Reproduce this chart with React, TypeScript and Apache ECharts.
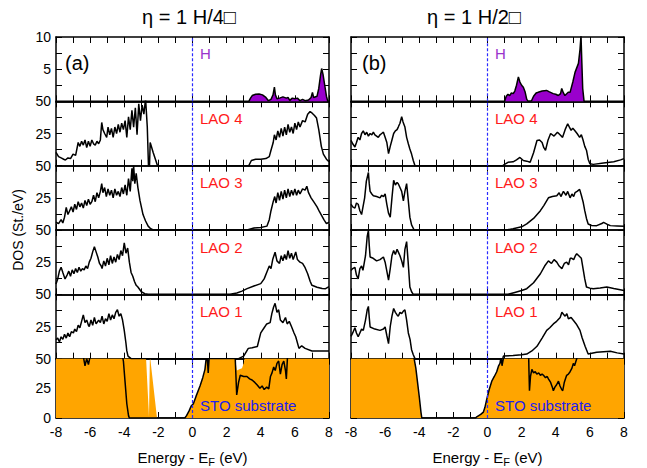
import React, { useEffect, useRef } from 'react';
import * as echarts from 'echarts';

// ---------- tick / label data ----------
const rowNames = ['H', 'LAO 4', 'LAO 3', 'LAO 2', 'LAO 1', 'STO substrate'];
const rowColors = ['#9933cc', '#ff1a1a', '#ff1a1a', '#ff1a1a', '#ff1a1a', '#2020ee'];
const colTitles = ['η = 1 H/4□', 'η = 1 H/2□'];
const colTags = ['(a)', '(b)'];
const xMin = -8;
const xMax = 8;

// ---------- series data: [energy (eV), DOS] ----------
const hA: number[][] = [[-8,0],[3.3,0],[3.4,0.5],[3.5,0.9],[3.7,1.1],[3.9,1.15],[4.1,1.0],[4.3,0.6],[4.45,0.1],[4.6,0.3],[4.72,1.0],[4.8,2.2],[4.86,1.0],[4.95,0.4],[5.1,0.5],[5.3,0.7],[5.5,0.5],[5.6,0.6],[5.7,0.15],[5.85,0.5],[6.0,0.4],[6.15,0.5],[6.3,0.1],[6.45,0.3],[6.6,0.1],[6.8,0.2],[6.95,0.6],[7.03,1.4],[7.1,0.6],[7.3,0.8],[7.4,2.0],[7.5,4.0],[7.57,5.1],[7.65,4.2],[7.75,2.5],[7.85,0.8],[7.93,0],[8,0]];
const hB: number[][] = [[-8,0],[1.0,0],[1.1,0.8],[1.2,1.1],[1.3,0.9],[1.4,1.3],[1.51,1.2],[1.6,1.6],[1.7,2.5],[1.81,3.8],[1.9,3.0],[2.0,2.5],[2.1,2.2],[2.2,1.5],[2.3,0.3],[2.39,0],[2.58,0.1],[2.7,0.8],[2.85,1.3],[2.97,1.4],[3.2,1.6],[3.46,1.7],[3.6,1.5],[3.85,1.2],[4.0,1.1],[4.15,0.9],[4.28,1.2],[4.35,2.0],[4.45,1.3],[4.54,0.9],[4.73,1.4],[4.84,1.4],[5.0,3.0],[5.13,4.5],[5.33,5.9],[5.42,8.0],[5.48,10.2],[5.53,6.0],[5.58,2.0],[5.66,0],[8,0]];

const lao4A: number[][] = [[-8,10.3],[-7.85,7],[-7.7,6],[-7.55,5],[-7.45,4.4],[-7.3,6],[-7.15,5.5],[-7.0,9],[-6.85,8],[-6.7,18],[-6.6,15],[-6.5,19],[-6.4,16],[-6.3,20],[-6.2,14],[-6.1,19],[-6.0,15],[-5.9,20],[-5.8,17],[-5.7,16],[-5.6,19],[-5.5,17],[-5.4,20],[-5.32,33.6],[-5.25,28],[-5.15,25],[-5.03,22],[-4.95,30],[-4.85,24],[-4.75,29],[-4.65,22],[-4.55,30],[-4.45,25],[-4.35,32],[-4.25,26],[-4.15,33],[-4.05,28],[-3.95,35],[-3.85,22],[-3.75,38],[-3.65,28],[-3.55,43],[-3.45,30],[-3.35,45],[-3.25,24],[-3.15,48],[-3.05,35],[-2.95,47],[-2.85,40],[-2.75,52],[-2.65,30],[-2.58,0],[-2.52,0],[-2.48,18],[-2.3,10],[-2.15,4],[-2.05,0],[3.3,0],[3.45,4],[3.7,5],[4.0,5],[4.3,5.5],[4.5,7],[4.6,12],[4.73,18],[4.8,24],[4.9,20],[5.0,27],[5.1,22],[5.2,29],[5.3,23],[5.4,30],[5.5,24],[5.6,32],[5.7,26],[5.8,30],[5.9,25],[6.0,33],[6.1,28],[6.2,34],[6.3,30],[6.45,35],[6.6,34],[6.75,40],[6.89,42],[7.0,41],[7.15,39],[7.27,37],[7.4,28],[7.55,15],[7.67,9],[7.85,5],[8,3]];
const lao3A: number[][] = [[-8,6],[-7.85,5],[-7.7,8],[-7.6,5.5],[-7.5,10],[-7.4,17.5],[-7.3,12],[-7.2,15],[-7.1,18],[-7.0,14],[-6.9,20],[-6.8,16],[-6.7,22],[-6.6,18],[-6.5,21],[-6.4,17],[-6.3,23],[-6.2,19],[-6.1,24],[-6.0,20],[-5.9,22],[-5.8,27],[-5.7,22],[-5.6,29],[-5.5,25],[-5.4,30],[-5.32,36],[-5.25,29],[-5.15,33],[-5.05,26],[-4.95,32],[-4.85,27],[-4.75,31],[-4.65,25],[-4.55,32],[-4.45,27],[-4.35,30],[-4.25,26],[-4.15,33],[-4.05,28],[-3.95,35],[-3.85,27],[-3.75,40],[-3.65,30],[-3.55,48],[-3.5,38],[-3.45,50],[-3.38,36],[-3.3,44],[-3.2,33],[-3.08,23],[-2.9,12],[-2.75,7],[-2.6,3],[-2.45,1],[-2.3,0],[3.2,0],[3.6,1.5],[4.0,2],[4.36,3],[4.5,8],[4.6,15],[4.73,22],[4.82,26],[4.9,21],[5.0,29],[5.1,23],[5.2,30],[5.3,24],[5.4,31],[5.5,25],[5.6,32],[5.7,26],[5.8,31],[5.9,27],[6.0,32],[6.1,27],[6.2,31],[6.3,28],[6.45,32],[6.6,31],[6.7,34],[6.8,29],[6.95,25],[7.1,22],[7.3,18],[7.45,14],[7.58,11],[7.7,8],[7.85,5],[8,6]];
const lao2A: number[][] = [[-8,8],[-7.9,12],[-7.8,18],[-7.7,21],[-7.6,17],[-7.47,12],[-7.35,15],[-7.25,18],[-7.15,14],[-7.05,19],[-6.95,16],[-6.85,20],[-6.75,17],[-6.65,21],[-6.55,18],[-6.45,20],[-6.35,19],[-6.25,22],[-6.15,20],[-6.05,25],[-5.95,28],[-5.85,33],[-5.75,37],[-5.65,33],[-5.55,29],[-5.45,24],[-5.35,22],[-5.3,20],[-5.2,26],[-5.1,22],[-5.0,28],[-4.9,23],[-4.8,30],[-4.7,24],[-4.6,29],[-4.5,25],[-4.4,31],[-4.3,27],[-4.2,34],[-4.1,30],[-4.0,40],[-3.9,32],[-3.8,36],[-3.7,25],[-3.6,17],[-3.5,14],[-3.4,10],[-3.3,7],[-3.2,5.7],[-3.0,2],[-2.8,0.5],[-2.6,0],[2.2,0],[2.6,1],[2.9,2.5],[3.2,4.4],[3.6,6.5],[4.0,8.3],[4.2,12],[4.36,17.4],[4.5,22],[4.6,20],[4.7,27],[4.84,32.8],[4.95,26],[5.1,24],[5.2,30],[5.3,26],[5.4,31],[5.5,27],[5.6,34],[5.7,28],[5.8,32],[5.9,27],[6.05,33],[6.15,27],[6.3,25],[6.45,24],[6.6,20.7],[6.75,16],[6.9,10],[7.0,7],[7.3,5.5],[7.6,4.5],[7.8,4.4],[8,6]];
const lao1A: number[][] = [[-8,14.7],[-7.9,16],[-7.8,13],[-7.7,17],[-7.6,15],[-7.5,19],[-7.4,16],[-7.3,20],[-7.2,17],[-7.1,21],[-6.98,20],[-6.9,23],[-6.8,21],[-6.7,26],[-6.6,24],[-6.5,29],[-6.4,34],[-6.3,28],[-6.2,30],[-6.1,26],[-6.05,25],[-5.95,30],[-5.85,26],[-5.75,32],[-5.65,27],[-5.5,30],[-5.4,28],[-5.3,33],[-5.2,27],[-5.1,31],[-5.0,29],[-4.9,35],[-4.8,30],[-4.7,34],[-4.6,31],[-4.5,36],[-4.4,38],[-4.3,33],[-4.2,35],[-4.1,30],[-4.0,22],[-3.9,12],[-3.85,6],[-3.78,2],[-3.6,0],[2.7,0],[3.0,2],[3.27,8],[3.5,8.5],[3.8,9.5],[4.0,20],[4.2,24],[4.35,27],[4.55,28],[4.65,35],[4.75,40],[4.84,43],[4.95,36],[5.05,38],[5.15,30],[5.3,28],[5.45,32],[5.55,27],[5.67,29],[5.8,25],[5.95,20],[6.05,17],[6.24,8],[6.4,10],[6.6,8],[7.0,6],[7.5,6],[8,6]];

const lao4B: number[][] = [[-8,19.6],[-7.9,17],[-7.77,14.5],[-7.68,18],[-7.58,22],[-7.48,20],[-7.38,25],[-7.28,27],[-7.18,24],[-7.08,26],[-6.98,23],[-6.88,25],[-6.78,24],[-6.69,26],[-6.6,24],[-6.5,23],[-6.4,22],[-6.3,24],[-6.2,25],[-6.1,26],[-6.0,22],[-5.9,18],[-5.8,9.3],[-5.7,15],[-5.6,20],[-5.5,25],[-5.4,27],[-5.3,28],[-5.23,30],[-5.13,33],[-5.03,38],[-4.95,34],[-4.84,30],[-4.74,22],[-4.64,17],[-4.55,13],[-4.45,9],[-4.35,4],[-4.25,0],[0.9,0],[1.0,1],[1.2,2.6],[1.5,3],[1.7,4.5],[1.9,6.4],[2.1,4],[2.3,3.5],[2.5,2.6],[2.7,10],[2.9,19.6],[3.05,20],[3.2,18],[3.3,14],[3.4,12],[3.55,20],[3.7,25],[3.9,23],[4.1,26],[4.25,24],[4.4,22],[4.55,28],[4.7,32.6],[4.8,30],[4.9,27.5],[5.0,29],[5.1,27.5],[5.25,25],[5.4,22],[5.5,24],[5.6,20],[5.7,15],[5.8,12],[5.9,5],[6.0,1.5],[6.2,1],[6.8,2],[7.4,3],[7.8,4.5],[8,5.5]];
const lao3B: number[][] = [[-8,20],[-7.9,18],[-7.77,17],[-7.68,21],[-7.58,20],[-7.48,15],[-7.38,12],[-7.2,25],[-7.1,38],[-6.98,44.7],[-6.93,36],[-6.88,30],[-6.78,28],[-6.69,26.6],[-6.5,26],[-6.3,25],[-6.2,27],[-6.1,26],[-6.0,28],[-5.9,20],[-5.8,13],[-5.7,10],[-5.6,25],[-5.5,38.6],[-5.4,35],[-5.3,37],[-5.23,36],[-5.13,33],[-5.03,30],[-4.93,22.6],[-4.84,30],[-4.74,36],[-4.65,24],[-4.55,10],[-4.45,4],[-4.3,0],[1.1,0],[1.5,1],[2.0,2.5],[2.3,4.7],[2.7,9],[3.1,15],[3.3,19],[3.57,25],[3.8,26],[4.06,26.6],[4.2,29],[4.3,26],[4.45,30],[4.6,27],[4.7,30],[4.84,25],[4.95,28],[5.05,26],[5.13,29],[5.25,30],[5.4,31.6],[5.5,27],[5.6,22],[5.7,15],[5.8,9],[5.9,4.7],[6.1,3.5],[6.4,3.4],[6.7,5],[6.8,6],[7.0,4.5],[7.2,3.4],[7.6,3.2],[8,3]];
const lao2B: number[][] = [[-8,18.6],[-7.9,20],[-7.77,21],[-7.68,15],[-7.58,12],[-7.48,20],[-7.38,22],[-7.3,18.6],[-7.15,30],[-7.05,45],[-6.98,49.7],[-6.93,38],[-6.88,29],[-6.7,28],[-6.5,26],[-6.3,27],[-6.1,29],[-6.0,25],[-5.9,18],[-5.8,11],[-5.7,20],[-5.6,30],[-5.5,34],[-5.4,31],[-5.3,35],[-5.23,33],[-5.13,30],[-5.03,26],[-4.93,21],[-4.84,35],[-4.74,41],[-4.65,25],[-4.55,5.7],[-4.45,2],[-4.35,0],[1.2,0],[1.6,1.5],[2.0,3],[2.3,4.4],[2.7,9],[3.1,16],[3.35,22],[3.57,26],[3.75,24],[3.9,27],[4.06,25],[4.2,22],[4.36,20],[4.5,24],[4.64,25],[4.75,23],[4.85,28],[4.94,28],[5.05,27],[5.15,30],[5.23,31.6],[5.35,30],[5.5,28],[5.6,20],[5.7,12],[5.8,5.7],[6.0,4.8],[6.2,4.4],[6.6,5],[6.99,5.7],[7.4,4.5],[8,3]];
const lao1B: number[][] = [[-8,17.3],[-7.9,20],[-7.77,24],[-7.68,20],[-7.58,17],[-7.48,20],[-7.38,23],[-7.28,22],[-7.15,30],[-7.05,38],[-6.98,40.6],[-6.93,32],[-6.88,24.6],[-6.6,23],[-6.3,22],[-6.1,23],[-6.0,24.6],[-5.9,18],[-5.8,11.7],[-5.7,25],[-5.6,33],[-5.5,39],[-5.4,36],[-5.3,34],[-5.23,33],[-5.13,36],[-5.03,35],[-4.93,37],[-4.84,38],[-4.74,30],[-4.64,20],[-4.54,15],[-4.45,7],[-4.35,3],[-4.25,0],[0.9,0],[0.93,2],[1.5,2.5],[2.0,3],[2.3,3.6],[2.6,6],[2.9,9.6],[3.2,16],[3.47,22],[3.65,24],[3.86,27],[4.05,29],[4.26,32],[4.36,36],[4.45,34.6],[4.55,33],[4.65,35],[4.74,31],[4.9,32],[5.03,29.8],[5.2,27],[5.42,22],[5.55,16],[5.72,9.6],[5.9,3.6],[6.4,5],[7.2,5.7],[7.6,4.5],[8,3.6]];

const stoLineA: number[][] = [[-8,60],[-6.5,60],[-6.4,52],[-6.3,44],[-6.2,50],[-6.1,45],[-6.0,52],[-5.9,60],[-4.2,60],[-4.1,52],[-4.05,48],[-3.95,30],[-3.85,12],[-3.75,2],[-3.7,0],[-0.45,0],[-0.35,2],[-0.2,6],[-0.08,10],[0.05,12],[0.2,18],[0.44,27],[0.6,34],[0.73,41],[0.8,50],[0.85,55],[0.92,38],[0.98,52],[1.05,60],[2.4,60],[2.5,52],[2.59,19.4],[2.7,30],[2.8,36],[3.0,35],[3.19,35],[3.35,33],[3.49,32],[3.65,30],[3.78,28],[3.95,25],[4.08,27],[4.2,24],[4.35,26],[4.47,24.5],[4.57,35],[4.66,38],[4.76,43],[4.85,40],[4.95,46],[5.05,48],[5.15,37],[5.25,45],[5.35,48],[5.45,40],[5.5,33],[5.58,55],[5.65,60],[8,60]];
const stoFillA: number[][] = [[-8,60],[-2.75,60],[-2.72,50],[-2.55,1],[-2.5,50],[-2.49,52],[-2.08,0],[-0.45,0],[-0.35,2],[-0.2,6],[-0.08,10],[0.05,12],[0.2,18],[0.44,27],[0.6,34],[0.73,41],[0.8,50],[0.85,60],[2.5,60],[2.55,45],[2.6,40],[2.75,41],[2.9,42],[3.0,46],[3.05,50],[3.1,60],[8,60]];
const stoLineB: number[][] = [[-8,60],[-4.35,60],[-4.3,50],[-4.2,42],[-4.1,30],[-4.0,18],[-3.9,5],[-3.85,0],[-0.7,0],[-0.63,1],[-0.4,3],[-0.24,5],[-0.15,9],[-0.05,15.5],[0.1,24],[0.25,31],[0.4,35],[0.54,39],[0.65,44],[0.73,46],[0.8,52],[0.85,44],[0.93,50],[1.0,60],[2.4,60],[2.43,40],[2.46,23],[2.52,35],[2.6,41],[2.7,38],[2.8,39],[2.89,37],[3.0,38],[3.1,36],[3.2,37],[3.28,36],[3.4,34],[3.5,35],[3.57,33],[3.7,30],[3.8,26],[3.86,23],[3.95,26],[4.05,28],[4.16,31],[4.25,27],[4.35,24],[4.41,23],[4.5,30],[4.57,33],[4.64,36],[4.74,37],[4.84,39],[4.95,42],[5.03,46],[5.1,44],[5.23,50],[5.3,60],[8,60]];
const stoFillB: number[][] = [[-8,60],[-4.35,60],[-4.3,50],[-4.2,42],[-4.1,30],[-4.0,18],[-3.9,5],[-3.85,0],[-0.7,0],[-0.63,1],[-0.4,3],[-0.24,5],[-0.15,9],[-0.05,15.5],[0.1,24],[0.25,31],[0.4,35],[0.54,39],[0.65,44],[0.73,46],[0.8,52],[0.85,60],[8,60]];

const panelLines = [
  [hA, hB],
  [lao4A, lao4B],
  [lao3A, lao3B],
  [lao2A, lao2B],
  [lao1A, lao1B],
  [stoLineA, stoLineB],
];
const stoFills = [stoFillA, stoFillB];

const FONT = 'Liberation Sans, Arial, Helvetica, sans-serif';

function buildOption() {
  const colLeft = [56, 351];
  const colWidth = 273;
  const top0 = 37;
  const rowH = 386 / 6;
  const grid: any[] = [];
  const xAxis: any[] = [];
  const yAxis: any[] = [];
  const series: any[] = [];
  const graphic: any[] = [];

  const axisLine = { show: true, onZero: false, lineStyle: { color: '#000', width: 1.5 } };
  const tick = { show: true, inside: true, length: 6, lineStyle: { color: '#000', width: 1 } };

  for (let r = 0; r < 6; r++) {
    for (let c = 0; c < 2; c++) {
      const g = r * 2 + c;
      const top = top0 + r * rowH;
      grid.push({ left: colLeft[c], top, width: colWidth, height: rowH });
      const isBottom = r === 5;
      xAxis.push({
        type: 'value', gridIndex: g, min: xMin, max: xMax, interval: 1, position: 'bottom',
        axisLine, axisTick: tick, splitLine: { show: false },
        axisLabel: {
          show: isBottom, color: '#000', fontSize: 14, fontFamily: FONT, margin: 7,
          formatter: (v: number) => (v % 2 === 0 ? String(v) : ''),
        },
        name: isBottom ? 'Energy - E{sub|F} (eV)' : '',
        nameLocation: 'middle', nameGap: 30,
        nameTextStyle: {
          color: '#000', fontSize: 15, fontFamily: FONT,
          rich: { sub: { fontSize: 11, verticalAlign: 'bottom', padding: [8, 0, 0, 0], fontFamily: FONT } },
        },
      });
      xAxis.push({
        type: 'value', gridIndex: g, min: xMin, max: xMax, interval: 1, position: 'top',
        axisLine, axisTick: tick, splitLine: { show: false }, axisLabel: { show: false },
      });
      const yMax = r === 0 ? 10 : 50;
      const yInt = r === 0 ? 2.5 : 12.5;
      const fmt = (v: number) => {
        if (r === 0) return v === 10 || v === 5 ? String(v) : '';
        if (r === 5) return v % 25 === 0 ? String(v) : '';
        return v === 50 || v === 25 ? String(v) : '';
      };
      yAxis.push({
        type: 'value', gridIndex: g, min: 0, max: yMax, interval: yInt, position: 'left',
        axisLine, axisTick: tick, splitLine: { show: false },
        axisLabel: { show: c === 0, color: '#000', fontSize: 14, fontFamily: FONT, margin: 5, formatter: fmt },
      });
      yAxis.push({
        type: 'value', gridIndex: g, min: 0, max: yMax, interval: yInt, position: 'right',
        axisLine, axisTick: tick, splitLine: { show: false }, axisLabel: { show: false },
      });

      if (r === 5) {
        series.push({
          type: 'line', xAxisIndex: 2 * g, yAxisIndex: 2 * g, data: stoFills[c],
          symbol: 'none', clip: true, lineStyle: { width: 0, opacity: 0 },
          areaStyle: { color: '#ffa500', opacity: 1 }, silent: true, z: 1,
        });
      }
      series.push({
        type: 'line', xAxisIndex: 2 * g, yAxisIndex: 2 * g, data: panelLines[r][c],
        symbol: 'none', clip: true, silent: true, z: 3,
        lineStyle: { color: '#000', width: 1.5 },
        areaStyle: r === 0 ? { color: '#9900cc', opacity: 1 } : undefined,
        markLine: {
          silent: true, symbol: ['none', 'none'], label: { show: false },
          lineStyle: { color: '#2a2aff', type: [3, 2], width: 1.2, opacity: 1 },
          emphasis: { disabled: true },
          data: [{ xAxis: 0 }],
        },
      });

      // panel label
      let ly = top + 17;
      if (r === 0) ly = 53;
      if (r === 5) ly = 405;
      graphic.push({
        type: 'text', x: c === 0 ? 200 : 495, y: ly, z: 100,
        style: { text: rowNames[r], fill: rowColors[r], font: `15px ${FONT}`, textVerticalAlign: 'middle' },
      });
    }
  }

  graphic.push(
    { type: 'text', x: 189, y: 17, style: { text: colTitles[0], fill: '#000', font: `20px ${FONT}`, textAlign: 'center', textVerticalAlign: 'middle' } },
    { type: 'text', x: 474, y: 17, style: { text: colTitles[1], fill: '#000', font: `20px ${FONT}`, textAlign: 'center', textVerticalAlign: 'middle' } },
    { type: 'text', x: 65, y: 63, style: { text: colTags[0], fill: '#000', font: `20px ${FONT}`, textVerticalAlign: 'middle' } },
    { type: 'text', x: 362, y: 63, style: { text: colTags[1], fill: '#000', font: `20px ${FONT}`, textVerticalAlign: 'middle' } },
    {
      type: 'text', x: 18, y: 230, rotation: Math.PI / 2,
      style: { text: 'DOS (St./eV)', fill: '#000', font: `14px ${FONT}`, textAlign: 'center', textVerticalAlign: 'middle' },
    },
  );

  return { animation: false, backgroundColor: '#fff', grid, xAxis, yAxis, series, graphic };
}

export default function App() {
  const ref = useRef<HTMLDivElement>(null);
  useEffect(() => {
    if (!ref.current) return;
    const chart = echarts.init(ref.current, undefined, { renderer: 'svg' });
    chart.setOption(buildOption() as any);
    return () => chart.dispose();
  }, []);
  return (
    <div
      ref={ref}
      style={{ position: 'fixed', left: 0, top: 0, width: 647, height: 468, background: '#fff' }}
    />
  );
}
